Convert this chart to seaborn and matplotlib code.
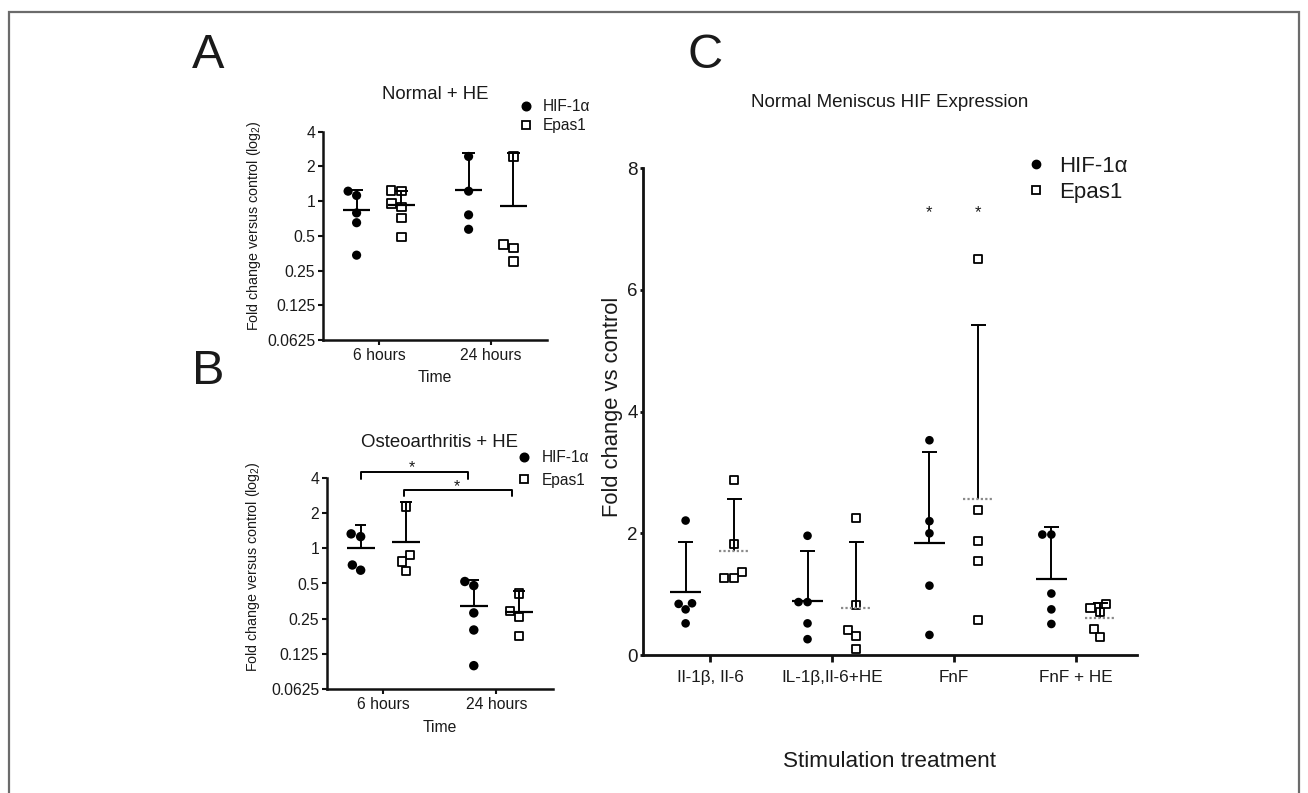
import numpy as np
import pandas as pd
import matplotlib
matplotlib.use("Agg")
import matplotlib.pyplot as plt
import seaborn as sns
from matplotlib.lines import Line2D
from matplotlib.patches import Rectangle
from matplotlib.ticker import FixedLocator, FixedFormatter, LogLocator, NullFormatter

# ---------------- data ----------------
series = ["HIF-1α", "Epas1"]
times = ["6 hours", "24 hours"]
treatments = ["Il-1β, Il-6", "IL-1β,Il-6+HE", "FnF", "FnF + HE"]
log_ticks = [0.0625, 0.125, 0.25, 0.5, 1, 2, 4]
log_tick_labels = ["0.0625", "0.125", "0.25", "0.5", "1", "2", "4"]

# Panel A: Normal + HE
a_hif = {"6 hours": [1.12, 1.22, 0.79, 0.65, 0.34],
         "24 hours": [2.44, 1.22, 0.76, 0.57]}
a_epas = {"6 hours": [1.24, 1.22, 0.89, 0.955, 0.71, 0.49],
          "24 hours": [2.44, 0.42, 0.39, 0.30]}
a_hif_mean = [0.83, 1.26]
a_hif_upper = [1.26, 2.60]
a_epas_mean = [0.92, 0.91]
a_epas_upper = [1.22, 2.60]

# Panel B: Osteoarthritis + HE
b_hif = {"6 hours": [1.33, 1.26, 0.65, 0.72],
         "24 hours": [0.52, 0.48, 0.28, 0.20, 0.099]}
b_epas = {"6 hours": [2.28, 0.88, 0.77, 0.64],
          "24 hours": [0.41, 0.29, 0.26, 0.177]}
b_hif_mean = [1.00, 0.32]
b_hif_upper = [1.57, 0.54]
b_epas_mean = [1.14, 0.285]
b_epas_upper = [2.47, 0.43]

# Panel C: Normal Meniscus HIF Expression
c_hif = {"Il-1β, Il-6": [2.21, 0.84, 0.85, 0.75, 0.52],
         "IL-1β,Il-6+HE": [1.96, 0.87, 0.87, 0.52, 0.26],
         "FnF": [3.53, 2.20, 2.00, 1.14, 0.33],
         "FnF + HE": [1.98, 1.98, 1.01, 0.75, 0.51]}
c_epas = {"Il-1β, Il-6": [2.88, 1.82, 1.37, 1.26, 1.27],
          "IL-1β,Il-6+HE": [2.25, 0.82, 0.41, 0.31, 0.10],
          "FnF": [6.51, 2.39, 1.88, 1.55, 0.575],
          "FnF + HE": [0.77, 0.71, 0.84, 0.43, 0.30]}
c_hif_mean = [1.04, 0.89, 1.84, 1.25]
c_hif_upper = [1.86, 1.71, 3.34, 2.11]
c_epas_mean = [1.71, 0.77, 2.57, 0.60]
c_epas_upper = [2.56, 1.85, 5.42, 0.86]
c_star_value = 7.34


def long_df(hif, epas):
    rows = []
    for name, d in ((series[0], hif), (series[1], epas)):
        for g, vals in d.items():
            for v in vals:
                rows.append({"group": g, "series": name, "value": v})
    return pd.DataFrame(rows)


# ---------------- style ----------------
sns.set_theme(style="ticks")
plt.rcParams["font.family"] = ["Liberation Sans", "DejaVu Sans"]
plt.rcParams["mathtext.fontset"] = "custom"
plt.rcParams["mathtext.rm"] = "Liberation Sans"
plt.rcParams["mathtext.it"] = "Liberation Sans:italic"
TXT = "#1a1a1a"

W, H = 1308, 793
fig = plt.figure(figsize=(W / 100, H / 100), dpi=100)


def px_axes(x0, y0, x1, y1):
    return fig.add_axes([x0 / W, 1 - y1 / H, (x1 - x0) / W, (y1 - y0) / H])


axA = px_axes(323, 131.7, 547, 340)
axB = px_axes(326.7, 478, 553, 689)
axC = px_axes(642.7, 168.3, 1136.7, 655)

OFF = 0.2  # seaborn dodge offset for two hue levels


def swarms(ax, df, order, size_c, size_s):
    pal = {series[0]: "black", series[1]: "white"}
    sns.swarmplot(data=df[df.series == series[0]], x="group", y="value",
                  hue="series", hue_order=series, order=order, dodge=True,
                  palette=pal, size=size_c, linewidth=0, legend=False,
                  marker="o", ax=ax, zorder=3)
    sns.swarmplot(data=df[df.series == series[1]], x="group", y="value",
                  hue="series", hue_order=series, order=order, dodge=True,
                  palette=pal, size=size_s, edgecolor="black", linewidth=1.3,
                  legend=False, marker="s", ax=ax, zorder=3)


def summary(ax, means, uppers, offset, mean_hw, cap_hw, dotted=False, lw=1.4):
    xs = np.arange(len(means)) + offset
    ax.vlines(xs, means, uppers, color="black", lw=lw, zorder=4)
    ax.hlines(uppers, xs - cap_hw, xs + cap_hw, color="black", lw=lw, zorder=4)
    if dotted:
        ax.hlines(means, xs - mean_hw, xs + mean_hw, color="#8a8a8a", lw=1.6,
                  linestyles=(0, (1, 1)), zorder=4)
    else:
        ax.hlines(means, xs - mean_hw, xs + mean_hw, color="black", lw=1.6, zorder=4)


def style_log_axis(ax, title, label_x, label_y, title_pad):
    sns.despine(ax=ax)
    ax.set_ylim(0.0625, 4)
    ax.yaxis.set_major_locator(FixedLocator(log_ticks))
    ax.yaxis.set_major_formatter(FixedFormatter(log_tick_labels))
    ax.yaxis.set_minor_locator(LogLocator(base=2, subs=np.arange(1.1, 2.0, 0.1)))
    ax.yaxis.set_minor_formatter(NullFormatter())
    ax.set_xlim(-0.5, 1.5)
    ax.set_xticks([0, 1])
    ax.set_xticklabels(times)
    for s in ("left", "bottom"):
        ax.spines[s].set_linewidth(1.8)
        ax.spines[s].set_color("#111111")
    ax.tick_params(axis="both", which="major", length=3.5, width=1.5, labelsize=11.3,
                   colors="#111111", labelcolor=TXT, pad=2)
    ax.tick_params(axis="y", which="minor", length=2.2, width=0.9, colors="#111111")
    ax.set_xlabel("Time", fontsize=11.3, color=TXT)
    ax.set_ylabel(r"Fold change versus control (log$_\mathregular{2}$)", fontsize=10.3, color=TXT)
    ax.yaxis.set_label_coords(label_x, label_y)
    ax.xaxis.set_label_coords(0.5, -0.145)
    ax.xaxis.label.set_va("top")
    ax.set_title(title, fontsize=13.4, color=TXT, pad=title_pad)
    ax.set_facecolor("white")


# ---------------- Panel A ----------------
axA.set_yscale("log", base=2)
axA.set_ylim(0.0625, 4)
swarms(axA, long_df(a_hif, a_epas), times, 6.6, 6.0)
summary(axA, a_hif_mean, a_hif_upper, -OFF, 0.12, 0.06)
summary(axA, a_epas_mean, a_epas_upper, OFF, 0.12, 0.06)
style_log_axis(axA, "Normal + HE", -0.268, 0.55, 23.5)

# ---------------- Panel B ----------------
axB.set_yscale("log", base=2)
axB.set_ylim(0.0625, 4)
swarms(axB, long_df(b_hif, b_epas), times, 6.8, 6.0)
summary(axB, b_hif_mean, b_hif_upper, -OFF, 0.124, 0.05)
summary(axB, b_epas_mean, b_epas_upper, OFF, 0.124, 0.05)
style_log_axis(axB, "Osteoarthritis + HE", -0.286, 0.58, 22)

# significance brackets (B)
for (x0, x1, ytop, ylow, xs, ys) in ((-0.2, 0.75, 4.5, 3.95, 0.25, 5.3),
                                     (0.18, 1.14, 3.13, 2.78, 0.65, 3.65)):
    axB.plot([x0, x0, x1, x1], [ylow, ytop, ytop, ylow], color="black", lw=1.4,
             clip_on=False, zorder=5)
    axB.annotate("*", xy=(xs, ys), xytext=(0, -6), textcoords="offset points",
                 ha="center", va="baseline", fontsize=11.5, color=TXT,
                 annotation_clip=False)

# ---------------- Panel C ----------------
swarms(axC, long_df(c_hif, c_epas), treatments, 6.2, 5.8)
summary(axC, c_hif_mean, c_hif_upper, -OFF, 0.126, 0.062)
summary(axC, c_epas_mean, c_epas_upper, OFF, 0.126, 0.062, dotted=True)
sns.despine(ax=axC)
axC.set_ylim(0, 8)
axC.set_yticks([0, 2, 4, 6, 8])
axC.set_xlim(-0.552, 3.5)
axC.set_xticks(range(len(treatments)))
axC.set_xticklabels(treatments)
for s in ("left", "bottom"):
    axC.spines[s].set_linewidth(2.0)
    axC.spines[s].set_color("#111111")
axC.tick_params(axis="y", length=2.5, width=2, labelsize=13.5, colors="#111111",
                labelcolor=TXT, pad=1)
axC.tick_params(axis="x", length=5, width=2, labelsize=12.3, colors="#111111",
                labelcolor=TXT, pad=6)
axC.set_xlabel("Stimulation treatment", fontsize=16.2, color=TXT)
axC.xaxis.set_label_coords(0.5, -0.198)
axC.xaxis.label.set_va("top")
axC.set_ylabel("Fold change vs control", fontsize=15.8, color=TXT)
axC.yaxis.set_label_coords(-0.04, 0.51)
axC.set_title("Normal Meniscus HIF Expression", fontsize=13.5, color=TXT, pad=44)
for xs in (2 - OFF, 2 + OFF):
    axC.annotate("*", xy=(xs, c_star_value), xytext=(0, -6.5), textcoords="offset points",
                 ha="center", va="baseline", fontsize=12, color=TXT)

# ---------------- legends ----------------
def add_legend(ax, fs, ms_c, ms_s, cy, left, spacing, textpad):
    handles = [Line2D([], [], ls="", marker="o", color="black", ms=ms_c),
               Line2D([], [], ls="", marker="s", mfc="white", mec="black",
                      mew=1.3, ms=ms_s)]
    ax.legend(handles, series, loc="center left",
              bbox_to_anchor=(left / W, 1 - cy / H), bbox_transform=fig.transFigure,
              frameon=False, fontsize=fs, handlelength=1.0, handletextpad=textpad,
              labelspacing=spacing, borderpad=0, borderaxespad=0,
              labelcolor=TXT)


add_legend(axA, 11.2, 6.2, 5.6, 116.2, 518.0, 0.28, 0.62)
add_legend(axB, 11.2, 6.2, 5.6, 468.9, 516.5, 0.48, 0.62)
add_legend(axC, 16, 6.0, 5.5, 179.5, 1025.0, 0.22, 0.55)

# ---------------- panel letters & frame ----------------
for letter, (x, y) in {"A": (208, 55), "B": (208, 372), "C": (705, 55)}.items():
    fig.text(x / W, 1 - y / H, letter, fontsize=35, ha="center", va="center", color=TXT)

fig.add_artist(Rectangle((9 / W, -0.05), (1299 - 9) / W, 1.05 - 12 / H,
                         transform=fig.transFigure, fill=False,
                         edgecolor="#6b6b6b", lw=1.6))

fig.savefig("out.png", dpi=100, facecolor="white")
